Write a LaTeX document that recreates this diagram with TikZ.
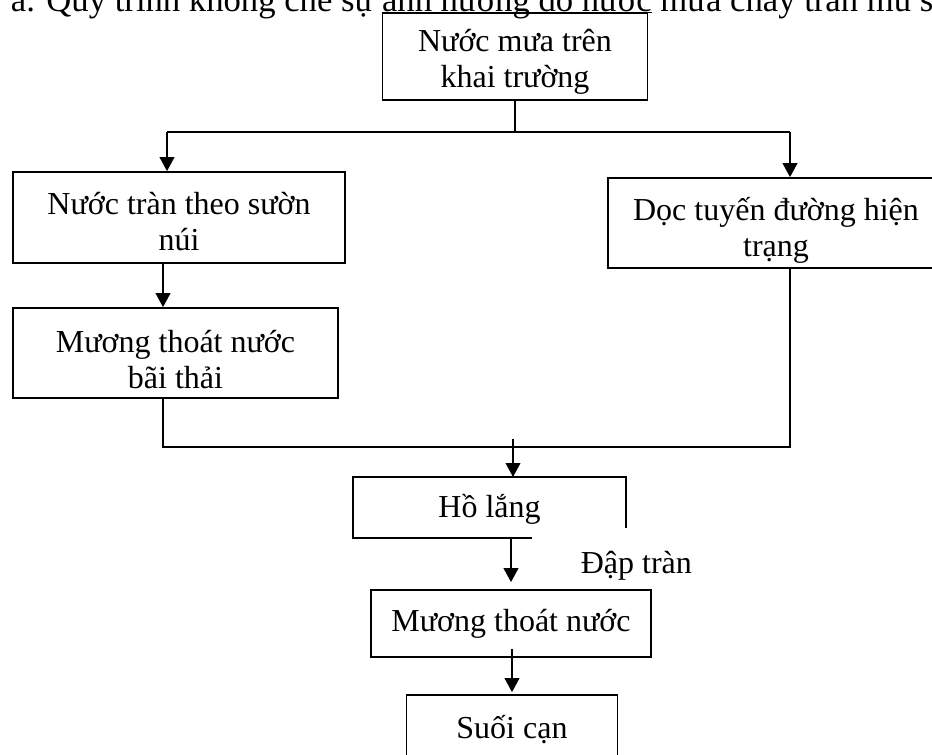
\documentclass[tikz,border=0pt]{standalone}
\usepackage{fontspec}
\setmainfont{Liberation Serif}
\usetikzlibrary{arrows.meta}
\newcommand{\ulword}[1]{\setbox0\hbox{#1}\rlap{\rule[-1.6pt]{\wd0}{1pt}}\box0\relax}
\tikzset{
  box/.style={draw, line width=1.3pt, align=center, inner sep=0pt},
  txt/.style={align=center, inner sep=0pt},
  arr/.style={-{Triangle[length=10.5pt,width=11pt]}},
}
\begin{document}
\begin{tikzpicture}[x=0.75pt, y=-0.75pt, line width=1.3pt, font=\fontsize{24}{27}\selectfont]
\useasboundingbox (0,0) rectangle (932,754);
\clip (0,0) rectangle (932,754);
\node [anchor=base west, inner sep=0pt, font=\fontsize{26}{30}\selectfont] (title) at (10,11) {a. Quy trình khống chế sự \ulword{ảnh hưởng do nước} mưa chảy tràn mũ s};
\node [box, minimum width=198.75pt, minimum height=65.25pt] (top) at (515,56.5) {};
\node [txt] (topT) at (515,62) {Nước mưa trên\\khai trường};
\node [box, minimum width=249pt, minimum height=68.25pt] (nui) at (179,217.5) {};
\node [txt] (nuiT) at (179,222) {Nước tràn theo sườn\\núi};
\node [box, minimum width=243.75pt, minimum height=67.5pt] (bai) at (175.5,353) {};
\node [txt] (baiT) at (175.5,360) {Mương thoát nước\\bãi thải};
\node [box, minimum width=252pt, minimum height=67.5pt] (doc) at (776,223) {};
\node [txt] (docT) at (776,230) {Dọc tuyến đường hiện\\trạng};
\node [inner sep=0pt, minimum width=204.75pt, minimum height=45.75pt] (ho) at (489.5,509.5) {Hồ lắng};
\node [anchor=west, inner sep=0pt] (dap) at (580,566) {Đập tràn};
\node [box, minimum width=210pt, minimum height=50.25pt] (muong) at (511,623.5) {Mương thoát nước};
\node [box, minimum width=158.25pt, minimum height=52.5pt] (suoi) at (512,730) {Suối cạn};
\coordinate (splitL) at (167,132);
\coordinate (splitR) at (790,132);
\coordinate (joinL) at (163,447);
\coordinate (joinR) at (790,447);
\coordinate (inflow) at (513,439);
\draw (top.south) -- (top.south |- splitL);
\draw (splitL) -- (splitR);
\draw [arr] (splitL) -- (splitL |- nui.north);
\draw [arr] (splitR) -- (splitR |- doc.north);
\draw [arr] (joinL |- nui.south) -- (joinL |- bai.north);
\draw (joinL |- bai.south) -- (joinL) -- (joinR) -- (joinR |- doc.south);
\draw [arr] (inflow) -- (inflow |- 0,477);
\draw (626,528) -- (626,477) -- (353,477) -- (353,538) -- (532,538);
\draw [arr] (muong.north |- 0,538) -- ([yshift=5.25pt]muong.north);
\draw [arr] (suoi.north |- muong.south) ++(0,-9) -- ([yshift=1.5pt]suoi.north);
\end{tikzpicture}
\end{document}
